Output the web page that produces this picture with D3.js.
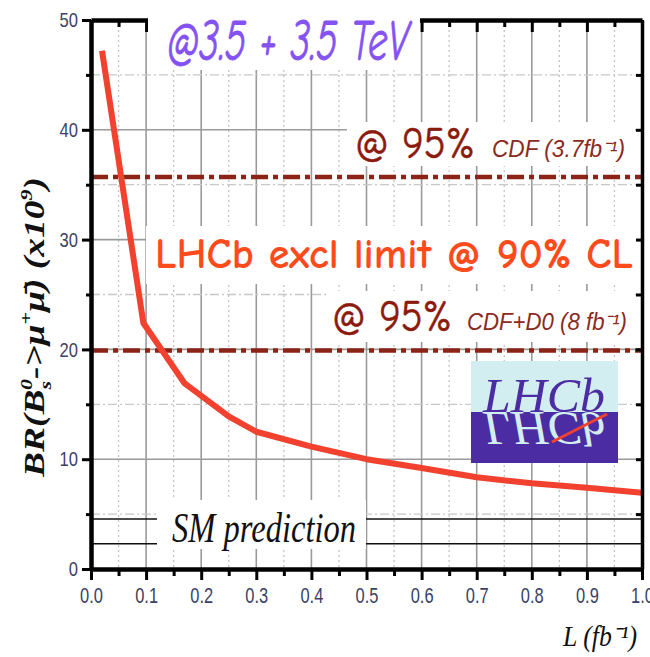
<!DOCTYPE html>
<html>
<head>
<meta charset="utf-8">
<script src="https://cdn.jsdelivr.net/npm/d3@7"></script>
<style>
  html, body { margin: 0; padding: 0; background: #fff; }
  svg { display: block; }
</style>
</head>
<body>
<svg id="chart" width="650" height="657"></svg>
<script>
// ---------- data ----------
const xMajorTicks = [0.0, 0.1, 0.2, 0.3, 0.4, 0.5, 0.6, 0.7, 0.8, 0.9, 1.0];
const xMinorTicks = [0.05, 0.15, 0.25, 0.35, 0.45, 0.55, 0.65, 0.75, 0.85, 0.95];
const yMajorTicks = [0, 10, 20, 30, 40, 50];
const yMinorTicks = [5, 15, 25, 35, 45];

// LHCb expected exclusion limit @ 90% CL vs integrated luminosity
const lumi = [0.02, 0.095, 0.17, 0.25, 0.3, 0.4, 0.5, 0.6, 0.7, 0.8, 0.9, 1.0];
const brLimit = [47.2, 22.4, 16.9, 13.9, 12.5, 11.15, 10.0, 9.2, 8.35, 7.8, 7.4, 6.95];

// Tevatron limits @ 95% CL
const tevLabels = ["CDF (3.7fb⁻¹)", "CDF+D0 (8 fb⁻¹)"];
const tevLimits = [35.7, 19.9];

// SM prediction band
const smBand = [2.3, 4.55];

// ---------- layout ----------
const svg = d3.select("#chart");
const x = d3.scaleLinear().domain([0, 1]).range([91, 642]);
const y = d3.scaleLinear().domain([0, 50]).range([569, 20]);

const tickFont = "'Liberation Sans',Arial,sans-serif";
const tickColor = "#3a4266";
const comic = "'Comic Sans MS','Comic Neue',Lato,sans-serif";
const serif = "'Liberation Serif','Times New Roman',serif";

// ---------- grid ----------
const grid = svg.append("g");
grid.selectAll(".vmin").data(xMinorTicks).enter().append("line")
  .attr("x1", d => x(d)).attr("x2", d => x(d)).attr("y1", y(50)).attr("y2", y(0))
  .attr("stroke", "#c4c4c4").attr("stroke-width", 1.3).attr("stroke-dasharray", "2,3");
grid.selectAll(".vmaj").data(xMajorTicks.slice(1, -1)).enter().append("line")
  .attr("x1", d => x(d)).attr("x2", d => x(d)).attr("y1", y(50)).attr("y2", y(0))
  .attr("stroke", "#9a9a9a").attr("stroke-width", 1.6);
grid.selectAll(".hmin").data(yMinorTicks).enter().append("line")
  .attr("x1", x(0)).attr("x2", x(1)).attr("y1", d => y(d)).attr("y2", d => y(d))
  .attr("stroke", "#c8c8c8").attr("stroke-width", 1.3).attr("stroke-dasharray", "9,3,2,3");
grid.selectAll(".hmaj").data(yMajorTicks.slice(1, -1)).enter().append("line")
  .attr("x1", x(0)).attr("x2", x(1)).attr("y1", d => y(d)).attr("y2", d => y(d))
  .attr("stroke", "#9a9a9a").attr("stroke-width", 1.6);

// ---------- SM prediction lines ----------
svg.selectAll(".sm").data(smBand).enter().append("line")
  .attr("x1", x(0)).attr("x2", x(1)).attr("y1", d => y(d)).attr("y2", d => y(d))
  .attr("stroke", "#111").attr("stroke-width", 1.6);

// ---------- Tevatron limit lines ----------
svg.selectAll(".tev").data(tevLimits).enter().append("line")
  .attr("x1", x(0)).attr("x2", x(1)).attr("y1", d => y(d)).attr("y2", d => y(d))
  .attr("stroke", "#8b2316").attr("stroke-width", 4.5).attr("stroke-dasharray", "17,5,5,5");

// ---------- top axis (drawn before label box that hides part of it) ----------
function styleAxis(g, w) {
  g.select(".domain").attr("stroke", "#000").attr("stroke-width", w);
  g.selectAll(".tick line").attr("stroke", "#000").attr("stroke-width", 3);
}
const topMaj = svg.append("g").attr("transform", `translate(0,${y(50)})`)
  .call(d3.axisBottom(x).tickValues(xMajorTicks).tickSize(12).tickSizeOuter(0).tickFormat(""));
styleAxis(topMaj, 4.5);
const topMin = svg.append("g").attr("transform", `translate(0,${y(50)})`)
  .call(d3.axisBottom(x).tickValues(xMinorTicks).tickSize(7).tickSizeOuter(0).tickFormat(""));
styleAxis(topMin, 0);
topMin.select(".domain").remove();

// ---------- white label boxes ----------
const boxes = [
  [148, 0, 272, 70],
  [347, 122, 288, 44],
  [146, 226, 490, 58],
  [326, 291, 309, 51],
  [157, 500, 209, 49]
];
svg.selectAll(".box").data(boxes).enter().append("rect")
  .attr("x", d => d[0]).attr("y", d => d[1]).attr("width", d => d[2]).attr("height", d => d[3])
  .attr("fill", "#fff");

// ---------- LHCb curve ----------
svg.append("path")
  .datum(lumi.map((l, i) => [l, brLimit[i]]))
  .attr("d", d3.line().x(d => x(d[0])).y(d => y(d[1])))
  .attr("fill", "none").attr("stroke", "#f2412f").attr("stroke-width", 6)
  .attr("stroke-linejoin", "round");

// ---------- axes ----------
const leftMaj = svg.append("g").attr("transform", `translate(${x(0)},0)`)
  .call(d3.axisLeft(y).tickValues(yMajorTicks).tickSize(9).tickPadding(4).tickSizeOuter(0).tickFormat(d3.format("d")));
styleAxis(leftMaj, 4.5);
const leftMin = svg.append("g").attr("transform", `translate(${x(0)},0)`)
  .call(d3.axisLeft(y).tickValues(yMinorTicks).tickSize(5).tickFormat(""));
leftMin.select(".domain").remove();
styleAxis(leftMin, 0);

const rightAx = svg.append("g").attr("transform", `translate(${x(1)},0)`)
  .call(d3.axisLeft(y).tickValues(yMajorTicks.concat(yMinorTicks)).tickSize(6).tickSizeOuter(0).tickFormat(""));
styleAxis(rightAx, 3.5);

const botMaj = svg.append("g").attr("transform", `translate(0,${y(0)})`)
  .call(d3.axisBottom(x).tickValues(xMajorTicks).tickSize(11).tickPadding(7).tickSizeOuter(0).tickFormat(d3.format(".1f")));
styleAxis(botMaj, 4.5);
const botMin = svg.append("g").attr("transform", `translate(0,${y(0)})`)
  .call(d3.axisBottom(x).tickValues(xMinorTicks).tickSize(7).tickFormat(""));
botMin.select(".domain").remove();
styleAxis(botMin, 0);

// narrow tick labels
function narrow(sel) {
  sel.attr("font-family", tickFont).attr("fill", tickColor)
    .attr("lengthAdjust", "spacingAndGlyphs")
    .attr("textLength", function () {
      const s = this.textContent;
      let w = 0;
      for (const c of s) w += (c === ".") ? 4.5 : 9.2;
      return w;
    });
}
leftMaj.selectAll(".tick text").attr("font-size", 21).call(narrow);
botMaj.selectAll(".tick text").attr("font-size", 22).call(narrow);

// ---------- text labels ----------
svg.append("text").attr("x", 167).attr("y", 60)
  .attr("font-family", comic).attr("font-style", "italic").attr("font-size", 58)
  .attr("fill", "#8552f2").attr("stroke", "#8552f2").attr("stroke-width", 0.8)
  .attr("textLength", 242).attr("lengthAdjust", "spacingAndGlyphs")
  .text("@3.5 + 3.5 TeV");

const pctPos = [[355, 158], [332, 331]];
const srcPos = [[492, 157, 133], [467, 330, 160]];
svg.selectAll(".pct").data(pctPos).enter().append("text")
  .attr("x", d => d[0]).attr("y", d => d[1])
  .attr("font-family", comic).attr("font-size", 44).attr("fill", "#8b1a0e")
  .attr("stroke", "#8b1a0e").attr("stroke-width", 0.5)
  .attr("textLength", 120).attr("lengthAdjust", "spacingAndGlyphs").text("@ 95%");
svg.selectAll(".src").data(tevLabels).enter().append("text")
  .attr("x", (d, i) => srcPos[i][0]).attr("y", (d, i) => srcPos[i][1])
  .attr("font-family", tickFont).attr("font-style", "italic").attr("font-size", 23)
  .attr("fill", "#8b2a22").attr("textLength", (d, i) => srcPos[i][2]).attr("lengthAdjust", "spacingAndGlyphs")
  .text(d => d);

svg.append("text").attr("x", 155).attr("y", 268)
  .attr("font-family", comic).attr("font-weight", "bold").attr("font-size", 42)
  .attr("fill", "#ff4b1c").attr("textLength", 478).attr("lengthAdjust", "spacingAndGlyphs")
  .text("LHCb excl limit @ 90% CL");

svg.append("text").attr("x", 172).attr("y", 542)
  .attr("font-family", serif).attr("font-style", "italic")
  .attr("font-size", 42).attr("fill", "#111")
  .attr("textLength", 184).attr("lengthAdjust", "spacingAndGlyphs")
  .text("SM prediction");

// x axis title
svg.append("text").attr("x", 563).attr("y", 646)
  .attr("font-family", serif).attr("font-style", "italic")
  .attr("font-size", 29).attr("fill", "#111")
  .attr("textLength", 74).attr("lengthAdjust", "spacingAndGlyphs")
  .text("L (fb⁻¹)");

// y axis title
const yt = svg.append("text").attr("transform", "translate(44,327) rotate(-90)")
  .attr("text-anchor", "middle")
  .attr("font-family", serif).attr("font-style", "italic")
  .attr("font-weight", "bold").attr("font-size", 29).attr("fill", "#111")
  .attr("textLength", 300).attr("lengthAdjust", "spacingAndGlyphs");
yt.append("tspan").text("BR(B");
yt.append("tspan").attr("font-size", 17).attr("dy", 7).text("s");
yt.append("tspan").attr("font-size", 17).attr("dy", -19).attr("dx", -7).text("0");
yt.append("tspan").attr("dy", 12).text("->");
yt.append("tspan").text("μ");
yt.append("tspan").attr("font-size", 17).attr("dy", -12).text("+");
yt.append("tspan").attr("dy", 12).text("μ̄)  (x10");
yt.append("tspan").attr("font-size", 17).attr("dy", -12).text("9");
yt.append("tspan").attr("dy", 12).text(")");

// ---------- LHCb logo ----------
const logo = svg.append("g");
logo.append("rect").attr("x", 471).attr("y", 361).attr("width", 147).attr("height", 51).attr("fill", "#d3eef0");
logo.append("rect").attr("x", 471).attr("y", 412).attr("width", 147).attr("height", 51).attr("fill", "#4c2ca3");
const defs = svg.append("defs");
defs.append("clipPath").attr("id", "logoBottom").append("rect")
  .attr("x", 471).attr("y", 412).attr("width", 147).attr("height", 51);
defs.append("clipPath").attr("id", "logoTop").append("rect")
  .attr("x", 471).attr("y", 361).attr("width", 147).attr("height", 51);
logo.append("g").attr("clip-path", "url(#logoTop)").attr("fill", "#4c2ca3")
  .append("text").attr("id", "lhcbWord").attr("x", 483).attr("y", 412)
  .attr("font-family", serif).attr("font-style", "italic")
  .attr("font-size", 48)
  .attr("textLength", 122).attr("lengthAdjust", "spacingAndGlyphs").text("LHCb");
logo.append("g").attr("clip-path", "url(#logoBottom)")
  .append("use").attr("href", "#lhcbWord")
  .attr("transform", "translate(0,824) scale(1,-1)")
  .attr("fill", "#d3eef0");
logo.append("line").attr("x1", 552).attr("y1", 442).attr("x2", 607).attr("y2", 414)
  .attr("stroke", "#f2412f").attr("stroke-width", 3);
</script>
</body>
</html>
